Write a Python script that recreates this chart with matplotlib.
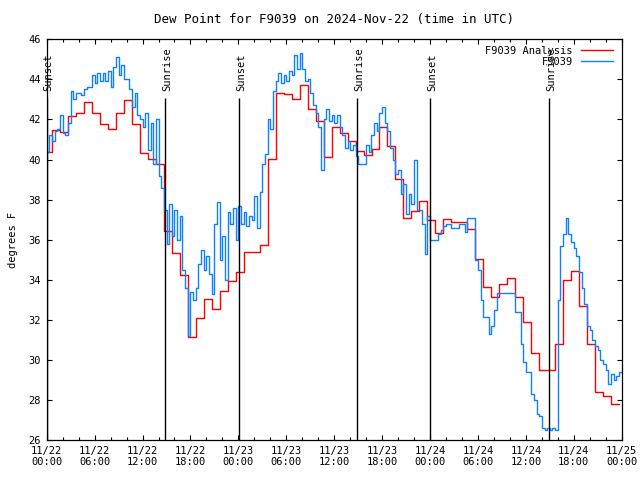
import matplotlib
matplotlib.use('Agg')
import matplotlib.pyplot as plt
import numpy as np

plt.rcParams['font.family'] = 'DejaVu Sans Mono'
plt.rcParams['font.size'] = 7.5

# hourly analysis values, each one held from hh:40 of the previous hour
red_vals = [40.36, 41.46, 41.36, 42.19, 42.33, 42.86, 42.33, 41.78, 41.51, 42.33,
            42.99, 41.79, 40.31, 40.03, 39.76, 36.45, 35.35, 34.24, 31.13, 32.08,
            33.02, 32.52, 33.44, 33.94, 34.40, 35.40, 35.40, 35.72, 40.03, 43.31,
            43.25, 43.00, 43.73, 42.53, 41.93, 40.11, 41.61, 41.31, 40.90, 40.43,
            40.25, 40.51, 41.60, 40.68, 39.01, 37.07, 37.43, 37.93, 36.98, 36.32,
            37.02, 36.88, 36.88, 36.53, 35.02, 33.62, 33.12, 33.77, 34.07, 33.15,
            31.90, 30.33, 29.49, 29.49, 30.78, 34.00, 34.44, 32.69, 30.78, 28.41,
            28.20, 27.80, 27.80]
red_hours = np.arange(len(red_vals)) - 0.33

# station obs, every 20 minutes
blue_vals = [40.4, 41.2, 40.9,  41.4, 41.5, 42.2,  41.3, 41.2, 41.8,  43.4, 43.0, 43.3,
             43.3, 43.2, 43.5,  43.6, 43.6, 44.2,  43.8, 44.3, 43.9,  44.3, 43.9, 44.4,
             43.6, 44.6, 45.1,  44.2, 44.7, 44.0,  44.0, 43.5, 42.6,  43.3, 42.2, 42.0,
             41.6, 42.3, 40.5,  41.8, 39.8, 42.0,  39.2, 38.6, 37.5,  35.8, 37.8, 36.2,
             37.5, 36.0, 37.2,  34.5, 33.6, 31.2,  33.4, 33.0, 33.6,  34.8, 35.5, 34.5,
             35.2, 34.3, 33.3,  36.8, 37.9, 35.0,  36.2, 34.0, 37.4,  36.8, 37.6, 36.0,
             37.7, 36.8, 37.4,  36.7, 37.2, 37.0,  38.2, 36.6, 38.4,  39.8, 40.3, 42.0,
             41.5, 43.4, 43.9,  44.3, 43.8, 44.2,  43.9, 44.4, 44.2,  45.2, 44.5, 45.3,
             44.5, 43.9, 44.0,  43.3, 42.7, 42.3,  41.6, 39.5, 42.0,  42.5, 41.9, 42.2,
             41.8, 42.2, 41.6,  41.2, 40.6, 40.9,  40.5, 40.7, 40.2,  39.8, 39.8, 39.8,
             40.7, 40.4, 41.2,  41.8, 41.4, 42.3,  42.6, 41.8, 41.4,  40.6, 40.0, 39.3,
             39.5, 38.3, 38.8,  37.3, 38.3, 37.8,  40.0, 37.5, 37.5,  36.8, 35.3, 37.2,
             36.0, 36.0, 36.0,  36.3, 36.5, 36.7,  36.8, 36.8, 36.57, 36.57, 36.6, 36.8,
             36.8, 36.4, 37.1,  37.1, 37.1, 35.0,  34.5, 33.0, 32.16, 32.16, 31.3, 31.7,
             32.5, 33.36, 33.36, 33.36, 33.36, 33.36, 33.36, 33.36, 32.4, 32.4, 30.8, 29.9,
             29.4, 29.4, 28.3,  28.0, 27.3, 27.2,  26.6, 26.5, 26.6,  26.5, 26.6, 26.5,
             33.0, 35.7, 36.3,  37.1, 36.3, 35.9,  35.6, 35.2, 34.4,  33.6, 32.8, 31.7,
             31.5, 31.0, 30.7,  30.5, 30.0, 29.8,  29.5, 28.8, 29.3,  29.0, 29.2, 29.4,
             29.4]
blue_hours = np.arange(len(blue_vals)) / 3.0

sunset_hours = [0.05, 24.1, 48.05]
sunrise_hours = [14.85, 38.9, 62.93]
sun_line_top = 43.05

tick_hours = [0, 6, 12, 18, 24, 30, 36, 42, 48, 54, 60, 66, 72]
tick_labels = ['11/22\n00:00', '11/22\n06:00', '11/22\n12:00', '11/22\n18:00',
               '11/23\n00:00', '11/23\n06:00', '11/23\n12:00', '11/23\n18:00',
               '11/24\n00:00', '11/24\n06:00', '11/24\n12:00', '11/24\n18:00',
               '11/25\n00:00']

fig = plt.figure(figsize=(6.4, 4.8), dpi=100)
ax = fig.add_axes([0.073, 0.0833, 0.8984, 0.8348])

ax.plot(red_hours, red_vals, drawstyle='steps-post', color='#ff0000', lw=1.0,
        label='F9039 Analysis')
ax.plot(blue_hours, blue_vals, drawstyle='steps-post', color='#1080ff', lw=1.0,
        label='F9039')

for h in sunset_hours:
    ax.vlines(h, 26, sun_line_top, color='black', lw=1.0, zorder=5)
    ax.text(h + 0.2, sun_line_top + 0.35, 'Sunset', rotation=90, ha='center', va='bottom')
for h in sunrise_hours:
    ax.vlines(h, 26, sun_line_top, color='black', lw=1.0, zorder=5)
    ax.text(h + 0.2, sun_line_top + 0.35, 'Sunrise', rotation=90, ha='center', va='bottom')

ax.set_xlim(0, 72)
ax.set_ylim(26, 46)
ax.set_xticks(tick_hours)
ax.set_xticklabels(tick_labels)
ax.set_xticks(np.arange(0, 73, 2), minor=True)
ax.set_yticks(np.arange(26, 47, 2))
ax.tick_params(which='both', direction='in', top=True, right=True, pad=4)
ax.tick_params(which='major', length=3.5, width=0.8)
ax.tick_params(which='minor', length=2, width=0.8)
for s in ax.spines.values():
    s.set_linewidth(0.9)

ax.set_ylabel('degrees F', labelpad=8)
ax.set_title('Dew Point for F9039 on 2024-Nov-22 (time in UTC)', pad=12)

leg = ax.legend(loc='upper right', bbox_to_anchor=(0.995, 1.0), frameon=False,
                markerfirst=False, handlelength=3.0, handletextpad=0.8,
                labelspacing=0.15, borderaxespad=0.2)

plt.savefig('out.png', dpi=100)
